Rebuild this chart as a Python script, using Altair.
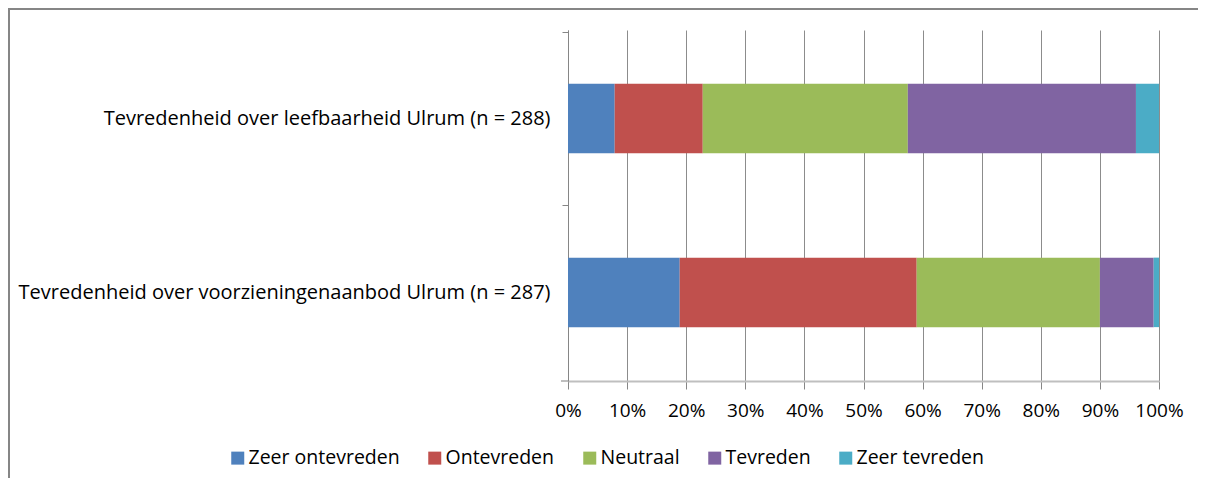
import altair as alt
import pandas as pd

questions = [
    "Tevredenheid over leefbaarheid Ulrum (n = 288)",
    "Tevredenheid over voorzieningenaanbod Ulrum (n = 287)",
]
categories = ["Zeer ontevreden", "Ontevreden", "Neutraal", "Tevreden", "Zeer tevreden"]
colors = ["#4F81BD", "#C0504D", "#9BBB59", "#8064A2", "#4BACC6"]
leefbaarheid = [7.9, 14.9, 34.7, 38.6, 3.9]
voorzieningen = [18.9, 40.1, 31.0, 9.1, 0.9]
x_ticks = [i / 10 for i in range(11)]

rows = []
for q, vals in zip(questions, [leefbaarheid, voorzieningen]):
    for i, (c, v) in enumerate(zip(categories, vals)):
        rows.append({"vraag": q, "categorie": c, "waarde": v, "volgorde": i})
df = pd.DataFrame(rows)

FONT = "Open Sans"
H = 351

bars = alt.Chart(df).mark_bar(stroke=None).encode(
    y=alt.Y("vraag:N", sort=questions, title=None,
            scale=alt.Scale(paddingInner=0.6, paddingOuter=0.31),
            axis=alt.Axis(tickOffset=-87, labelOffset=87, labelLimit=700, labelFontSize=20,
                          labelFont=FONT, labelColor="#000000", labelPadding=12,
                          domainColor="#868686", tickColor="#868686", tickSize=6,
                          grid=False)),
    x=alt.X("waarde:Q", stack="normalize", title=None,
            scale=alt.Scale(domain=[0, 1], nice=False),
            axis=alt.Axis(values=x_ticks, format=".0%", labelFontSize=19, labelFont=FONT,
                          labelColor="#000000", labelPadding=12, labelFlush=False,
                          domainColor="#BFBFBF", domainWidth=2, tickColor="#868686",
                          tickSize=8, grid=True, gridColor="#8C8C8C", gridWidth=1)),
    color=alt.Color("categorie:N", sort=categories,
                    scale=alt.Scale(domain=categories, range=colors),
                    legend=alt.Legend(title=None, orient="none", direction="horizontal",
                                      legendX=-340, legendY=418, symbolType="square",
                                      symbolSize=169, symbolStrokeWidth=0,
                                      labelFontSize=19.5, labelFont=FONT,
                                      labelColor="#000000", columnPadding=25,
                                      labelOffset=1)),
    order=alt.Order("volgorde:Q"),
)

bottom_tick = alt.Chart(alt.Data(values=[{}])).mark_rule(color="#BFBFBF", strokeWidth=2).encode(
    x=alt.value(-7), x2=alt.value(0), y=alt.value(H), y2=alt.value(H)
)
frame_top = alt.Chart(alt.Data(values=[{}])).mark_rule(color="#868686", strokeWidth=2).encode(
    x=alt.value(-560), x2=alt.value(632), y=alt.value(-21), y2=alt.value(-21)
)
frame_left = alt.Chart(alt.Data(values=[{}])).mark_rule(color="#868686", strokeWidth=2).encode(
    x=alt.value(-559), x2=alt.value(-559), y=alt.value(-22), y2=alt.value(460)
)

chart = alt.layer(bars, bottom_tick, frame_top, frame_left).properties(
    width=591, height=H,
    autosize=alt.AutoSizeParams(type="none"),
    padding={"left": 560, "top": 22, "right": 39, "bottom": 97},
).configure_view(stroke=None)

chart.save("out.html", embed_options={"renderer": "svg", "actions": False})
